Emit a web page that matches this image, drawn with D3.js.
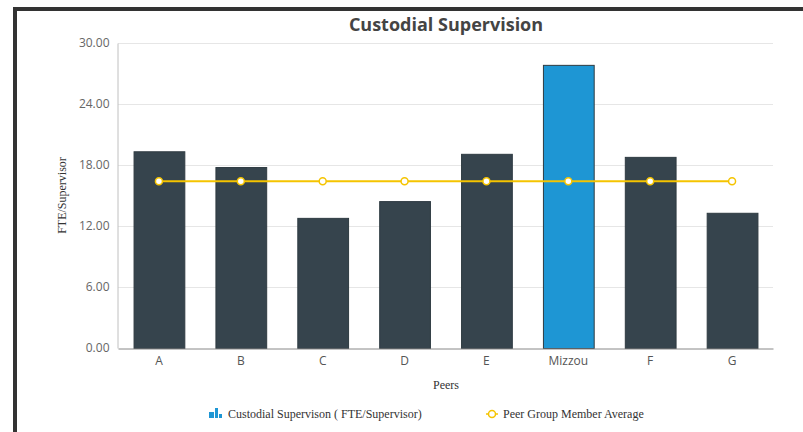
<!DOCTYPE html>
<html>
<head>
<meta charset="utf-8">
<script src="https://cdn.jsdelivr.net/npm/d3@7"></script>
<style>
  body { margin: 0; background: #fff; }
  svg { display: block; }
</style>
</head>
<body>
<div id="chart"></div>
<script>
// data
var peers = ["A", "B", "C", "D", "E", "Mizzou", "F", "G"];
var fteValues = [19.35, 17.8, 12.8, 14.45, 19.1, 27.85, 18.8, 13.3];
var peerAverage = [16.4, 16.4, 16.4, 16.4, 16.4, 16.4, 16.4, 16.4];
var yTicks = [0, 6, 12, 18, 24, 30];
var highlightPeer = "Mizzou";

var width = 803, height = 432;
var margin = {top: 43, right: 30, bottom: 84, left: 118};

var svg = d3.select("#chart").append("svg")
    .attr("width", width)
    .attr("height", height);

// dark frame round the panel (top and left edges visible)
svg.append("rect")
    .attr("x", 15).attr("y", 9)
    .attr("width", width + 20).attr("height", height + 20)
    .attr("fill", "none")
    .attr("stroke", "#333")
    .attr("stroke-width", 4);

var xScale = d3.scaleBand()
    .domain(peers)
    .range([margin.left, width - margin.right])
    .paddingInner(0.38)
    .paddingOuter(0.19);

var yScale = d3.scaleLinear()
    .domain([0, 30])
    .range([height - margin.bottom, margin.top]);

// grid lines
svg.append("g")
    .selectAll("line")
    .data(yTicks.filter(function (t) { return t > 0; }))
    .enter()
    .append("line")
    .attr("x1", margin.left)
    .attr("x2", width - margin.right)
    .attr("y1", function (d) { return yScale(d) + 0.5; })
    .attr("y2", function (d) { return yScale(d) + 0.5; })
    .attr("stroke", "#e6e6e6")
    .attr("stroke-width", 1);

// y axis
var yAxis = svg.append("g")
    .attr("transform", "translate(" + (margin.left - 0.5) + ",0)")
    .call(d3.axisLeft(yScale).tickValues(yTicks).tickFormat(d3.format(".2f")).tickSize(0).tickPadding(8));
yAxis.select(".domain").attr("stroke", "#c0c0c0");
yAxis.selectAll("text")
    .attr("fill", "#666")
    .style("font-family", "'Open Sans', sans-serif")
    .style("font-size", "12px");

// bars
svg.append("g")
    .selectAll("rect")
    .data(fteValues)
    .enter()
    .append("rect")
    .attr("x", function (d, i) { return xScale(peers[i]) + 0.5; })
    .attr("y", function (d) { return yScale(d) + 0.5; })
    .attr("width", xScale.bandwidth())
    .attr("height", function (d) { return yScale(0) - yScale(d); })
    .attr("fill", function (d, i) { return peers[i] == highlightPeer ? "#1e96d4" : "#36444d"; })
    .attr("stroke", "#2f3b42")
    .attr("stroke-width", 1);

// x axis
var xAxis = svg.append("g")
    .attr("transform", "translate(0," + (yScale(0) + 0.5) + ")")
    .call(d3.axisBottom(xScale).tickSize(0).tickPadding(8));
xAxis.select(".domain").attr("stroke", "#888");
xAxis.selectAll("text")
    .attr("fill", "#555")
    .style("font-family", "'Open Sans', sans-serif")
    .style("font-size", "12px");

// peer average line
var avgLine = d3.line()
    .x(function (d, i) { return xScale(peers[i]) + xScale.bandwidth() / 2; })
    .y(function (d) { return yScale(d); });

svg.append("path")
    .datum(peerAverage)
    .attr("d", avgLine)
    .attr("fill", "none")
    .attr("stroke", "#f5c400")
    .attr("stroke-width", 2);

svg.append("g")
    .selectAll("circle")
    .data(peerAverage)
    .enter()
    .append("circle")
    .attr("cx", function (d, i) { return xScale(peers[i]) + xScale.bandwidth() / 2; })
    .attr("cy", function (d) { return yScale(d); })
    .attr("r", 3.5)
    .attr("fill", "#fff")
    .attr("stroke", "#f5c400")
    .attr("stroke-width", 1.5);

// title
svg.append("text")
    .attr("x", 446).attr("y", 31)
    .attr("text-anchor", "middle")
    .attr("fill", "#444")
    .style("font-family", "'Open Sans', sans-serif")
    .style("font-size", "18px")
    .style("font-weight", "bold")
    .text("Custodial Supervision");

// axis titles
svg.append("text")
    .attr("transform", "translate(66," + ((margin.top + yScale(0)) / 2) + ") rotate(-90)")
    .attr("text-anchor", "middle")
    .attr("fill", "#333")
    .style("font-family", "'Liberation Serif', serif")
    .style("font-size", "12px")
    .text("FTE/Supervisor");

svg.append("text")
    .attr("x", 446).attr("y", 389)
    .attr("text-anchor", "middle")
    .attr("fill", "#333")
    .style("font-family", "'Liberation Serif', serif")
    .style("font-size", "12px")
    .text("Peers");

// legend
var legend = svg.append("g").attr("transform", "translate(0,414)");
[[2, 6], [6, 10], [10, 4]].forEach(function (b) {
    legend.append("rect")
        .attr("x", 209 + b[0]).attr("y", 4 - b[1])
        .attr("width", 3).attr("height", b[1])
        .attr("fill", "#1e96d4");
});
legend.append("rect").attr("x", 209).attr("y", -2).attr("width", 2).attr("height", 6).attr("fill", "#1e96d4");
legend.append("text")
    .attr("x", 228).attr("y", 4)
    .attr("fill", "#333")
    .style("font-family", "'Liberation Serif', serif")
    .style("font-size", "12px")
    .text("Custodial Supervison ( FTE/Supervisor)");

legend.append("line")
    .attr("x1", 486).attr("x2", 498).attr("y1", 0).attr("y2", 0)
    .attr("stroke", "#f5c400").attr("stroke-width", 1.5);
legend.append("circle")
    .attr("cx", 492).attr("cy", 0).attr("r", 3.5)
    .attr("fill", "#fff").attr("stroke", "#f5c400").attr("stroke-width", 1.5);
legend.append("text")
    .attr("x", 503).attr("y", 4)
    .attr("fill", "#333")
    .style("font-family", "'Liberation Serif', serif")
    .style("font-size", "12px")
    .text("Peer Group Member Average");
</script>
</body>
</html>
